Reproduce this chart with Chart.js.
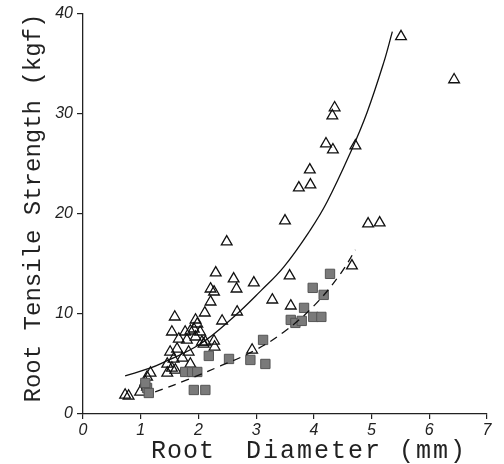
<!DOCTYPE html>
<html>
<head>
<meta charset="utf-8">
<script src="https://cdn.jsdelivr.net/npm/chart.js@4/dist/chart.umd.min.js"></script>
<style>
html,body{margin:0;padding:0;background:#fff;}
#wrap{width:504px;height:464px;}
</style>
</head>
<body>
<div id="wrap"><canvas id="c" width="504" height="464"></canvas></div>
<script>
const xTicks = [0,1,2,3,4,5,6,7];
const yTicks = [0,10,20,30,40];
const xTitle = ["Root", "Diameter (mm)"];
const yTitle = "Root Tensile Strength (kgf)";

// open triangles
const triX = [5.51,6.43,4.36,4.32,4.21,4.33,4.72,3.93,3.74,3.94,3.50,4.94,5.14,2.49,4.66,3.58,2.30,2.61,2.66,2.96,2.21,2.27,2.21,3.28,3.60,2.11,2.67,2.41,1.59,1.95,1.98,
  1.54,1.66,1.77,1.86,1.92,2.03,1.80,1.95,1.63,1.83,2.06,2.12,2.27,2.28,2.09,1.51,1.57,1.72,1.86,1.46,1.54,1.46,1.60,2.93,1.17,1.11,1.08,1.11,0.99,0.73,0.79];
const triY = [37.7,33.4,30.6,29.8,27.0,26.4,26.8,24.4,22.6,22.9,19.3,19.0,19.1,17.2,14.8,13.8,14.1,13.5,12.5,13.1,12.5,12.2,11.2,11.4,10.8,10.1,10.2,9.3,9.7,9.4,9.0,
  8.2,7.5,8.2,8.3,8.5,8.2,7.4,7.7,6.5,6.2,7.2,7.2,7.3,6.7,7.0,6.2,5.5,5.6,5.0,5.0,4.6,4.1,4.4,6.4,4.1,3.7,3.2,2.7,2.2,1.9,1.8];

// filled squares
const sqX = [4.28,3.98,4.17,3.83,3.60,3.68,3.79,3.99,4.13,3.12,3.16,2.90,2.53,2.18,1.77,1.89,1.98,1.92,2.12,1.11,1.14,1.08];
const sqY = [14.0,12.6,11.9,10.6,9.4,9.1,9.3,9.7,9.7,7.4,5.0,5.4,5.5,5.8,4.2,4.2,4.2,2.4,2.4,2.6,2.1,3.1];

// fitted curves
const solidX = [0.73,1.17,1.34,2.03,2.61,3.08,3.48,3.94,4.23,4.64,4.92,5.21,5.36];
const solidY = [3.8,4.6,5.0,7.0,9.7,12.3,14.7,18.4,21.2,26.2,30.1,35.1,38.2];
const dashX = [1.25,1.80,2.38,2.96,3.48,4.00,4.46,4.72];
const dashY = [2.2,3.4,4.8,6.3,8.2,10.8,14.0,16.4];

const pts = (xs, ys) => xs.map((x, i) => ({x: x, y: ys[i]}));

const titlePlugin = {
  id: 'axisTitles',
  afterDraw(chart) {
    const ctx = chart.ctx;
    ctx.save();
    ctx.fillStyle = '#222';
    ctx.font = '25px "Liberation Mono"';
    ctx.textBaseline = 'alphabetic';
    ctx.textAlign = 'left';
    try { ctx.letterSpacing = '1px'; } catch (e) {}
    ctx.fillText(xTitle[0], 151, 458);
    try { ctx.letterSpacing = '2px'; } catch (e) {}
    ctx.fillText(xTitle[1], 246, 458);
    ctx.translate(40, 208);
    ctx.rotate(-Math.PI / 2);
    ctx.textAlign = 'center';
    try { ctx.letterSpacing = '0px'; } catch (e) {}
    ctx.font = '24px "Liberation Mono"';
    ctx.fillText(yTitle, 0, 0);
    ctx.restore();
  }
};

new Chart(document.getElementById('c'), {
  type: 'scatter',
  data: {
    datasets: [
      {
        label: 'solid fit',
        data: pts(solidX, solidY),
        showLine: true,
        borderColor: '#111',
        borderWidth: 1.3,
        pointRadius: 0,
        tension: 0.4,
        fill: false
      },
      {
        label: 'dashed fit',
        data: pts(dashX, dashY),
        showLine: true,
        borderColor: '#111',
        borderWidth: 1.3,
        borderDash: [8, 6],
        pointRadius: 0,
        tension: 0.4,
        fill: false
      },
      {
        label: 'squares',
        data: pts(sqX, sqY),
        pointStyle: 'rect',
        pointRadius: 6.6,
        backgroundColor: '#7a7a7a',
        borderColor: '#555',
        borderWidth: 1
      },
      {
        label: 'triangles',
        data: pts(triX, triY),
        pointStyle: 'triangle',
        pointRadius: 6.2,
        backgroundColor: 'rgba(0,0,0,0)',
        borderColor: '#111',
        borderWidth: 1.3
      }
    ]
  },
  options: {
    responsive: false,
    animation: false,
    devicePixelRatio: 1,
    layout: { padding: { top: 10, right: 17, left: 0, bottom: 0 } },
    plugins: { legend: { display: false }, tooltip: { enabled: false } },
    scales: {
      x: {
        type: 'linear',
        min: 0, max: 7,
        afterBuildTicks(s) { s.ticks = xTicks.map(v => ({value: v})); },
        afterFit(s) { s.height = 50; },
        border: { display: true, color: '#222', width: 1.3 },
        grid: { display: true, drawOnChartArea: false, drawTicks: true, tickLength: 5, color: '#222', lineWidth: 1.2 },
        ticks: { color: '#222', padding: 2, font: { family: '"Liberation Sans"', size: 16, style: 'italic' } },
        title: { display: false }
      },
      y: {
        type: 'linear',
        min: 0, max: 40,
        afterBuildTicks(s) { s.ticks = yTicks.map(v => ({value: v})); },
        afterFit(s) { s.width = 83; },
        border: { display: true, color: '#222', width: 1.3 },
        grid: { display: true, drawOnChartArea: false, drawTicks: true, tickLength: 6, color: '#222', lineWidth: 1.2 },
        ticks: { color: '#222', padding: 4, font: { family: '"Liberation Sans"', size: 16, style: 'italic' } },
        title: { display: false }
      }
    }
  },
  plugins: [titlePlugin]
});
</script>
</body>
</html>
